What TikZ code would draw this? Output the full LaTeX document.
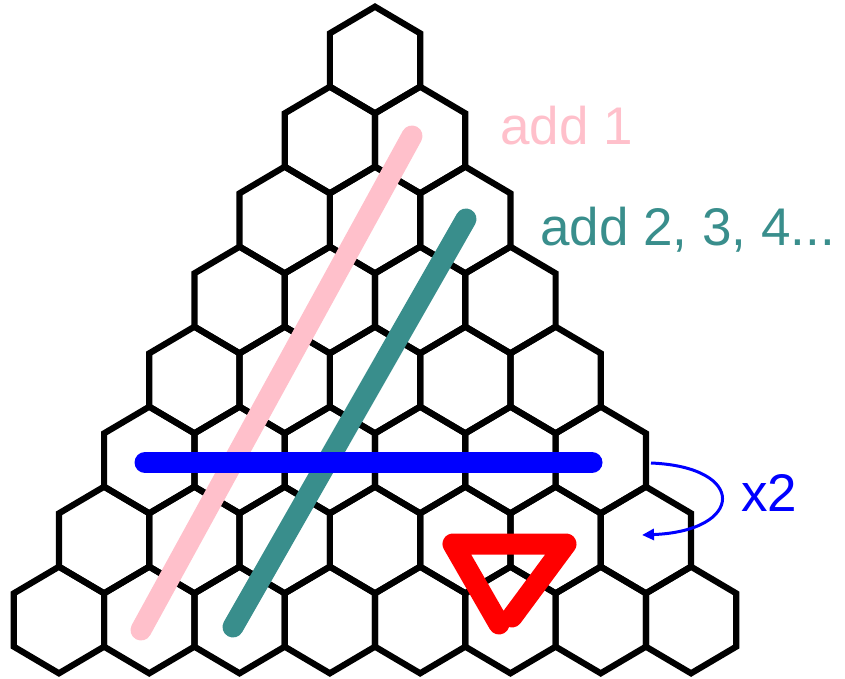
\documentclass[tikz,border=0pt]{standalone}
\usepackage{fontspec}
\setmainfont{Liberation Sans}
\usetikzlibrary{arrows.meta}
\definecolor{pinkc}{RGB}{255,192,203}
\definecolor{tealc}{RGB}{57,142,140}
\definecolor{bluec}{RGB}{0,0,255}
\definecolor{redc}{RGB}{255,0,0}
\begin{document}
\begin{tikzpicture}[x=1pt,y=-1pt,
  hexcell/.style={draw=black,line width=6.2pt},
  bar/.style={line width=21pt,line cap=round,line join=round},
  lbl/.style={anchor=base west,inner sep=0pt,font=\fontsize{53}{60}\selectfont}]
\useasboundingbox (0,0) rectangle (845,679);
\foreach \r in {0,...,7}{
  \foreach \k in {0,...,\r}{
    \pgfmathsetmacro{\cx}{375+(\k-\r/2)*90.3}
    \pgfmathsetmacro{\cy}{60+80*\r}
    \draw[hexcell] (\cx,\cy-53.3) -- (\cx+45.15,\cy-26.65) -- (\cx+45.15,\cy+26.65)
      -- (\cx,\cy+53.3) -- (\cx-45.15,\cy+26.65) -- (\cx-45.15,\cy-26.65) -- cycle;
  }
}
% red triangle
\coordinate (r1) at (512,617);
\coordinate (r2) at (566,544);
\coordinate (r3) at (453,544);
\coordinate (r4) at (499,624);
\draw[bar,draw=redc] (r1) -- (r2) -- (r3) -- (r4);
% pink and teal diagonals
\coordinate (p1) at (412,136);
\coordinate (p2) at (141,630);
\draw[bar,draw=pinkc] (p1) -- (p2);
\coordinate (t1) at (466,219);
\coordinate (t2) at (233,627);
\draw[bar,draw=tealc] (t1) -- (t2);
% blue horizontal
\coordinate (b1) at (145,462.5);
\coordinate (b2) at (592,462.5);
\draw[bar,draw=bluec] (b1) -- (b2);
% curved arrow
\coordinate (a1) at (651,463);
\coordinate (a2) at (642,535);
\draw[draw=bluec,line width=3pt,-{Triangle[length=12pt,width=11pt]}]
  (a1) .. controls (748,467) and (744,531) .. (a2);
% labels
\node[lbl,text=pinkc] (l1) at (500,145) {add 1};
\node[lbl,text=tealc] (l2) at (540,245) {add 2, 3, 4...};
\node[lbl,text=bluec] (l3) at (741,511) {x2};
\end{tikzpicture}
\end{document}
